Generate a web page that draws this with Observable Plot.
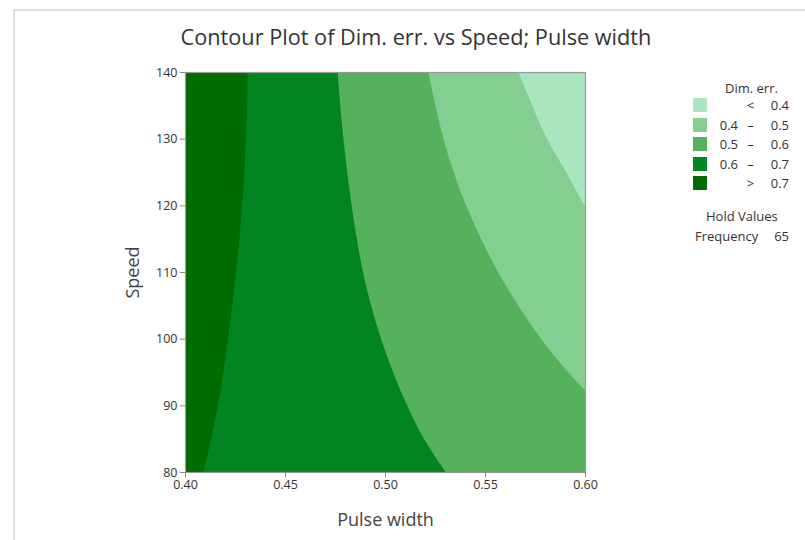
<!DOCTYPE html>
<html>
<head>
<meta charset="utf-8">
<script src="https://cdn.jsdelivr.net/npm/d3@7"></script>
<script src="https://cdn.jsdelivr.net/npm/@observablehq/plot@0.6"></script>
<style>
  html, body { margin: 0; padding: 0; background: #fff; overflow: hidden; }
  #wrap { position: relative; width: 805px; height: 540px; font-family: "Open Sans", sans-serif; color: #333; }
  #wrap svg { position: absolute; left: 0; top: 0; }
  #border { position: absolute; left: 13px; top: 9px; right: -2px; bottom: -2px; border-left: 2px solid #dedede; border-top: 2px solid #dedede; }
  #title { position: absolute; left: 0; width: 832px; top: 22px; text-align: center; font-size: 21.7px; color: #333; white-space: nowrap; }
  .lg { position: absolute; font-size: 13px; color: #333; white-space: nowrap; line-height: 16px; }
  .sw { position: absolute; width: 14px; height: 14px; }
</style>
</head>
<body>
<div id="wrap">
  <div id="border"></div>
  <div id="title">Contour Plot of Dim. err. vs Speed; Pulse width</div>
</div>
<script>
// ---- data ----
const xDomain = [0.40, 0.60];              // Pulse width
const yDomain = [80, 140];                 // Speed
const xTicks = [0.40, 0.45, 0.50, 0.55, 0.60];
const yTicks = [80, 90, 100, 110, 120, 130, 140];

// contour boundaries (Pulse width position of each level at given Speed)
const speedB07 = [80, 85, 90, 95, 100, 105, 110, 115, 120, 125, 130, 135, 140];
const pulseB07 = [0.4092, 0.4131, 0.4165, 0.4192, 0.4215, 0.4236, 0.4255, 0.4272, 0.4286, 0.4297, 0.4305, 0.4311, 0.4313];

const speedB06 = [80, 85, 90, 95, 100, 105, 110, 115, 120, 125, 130, 135, 140];
const pulseB06 = [0.5303, 0.5195, 0.5110, 0.5040, 0.4980, 0.4930, 0.4890, 0.4859, 0.4833, 0.4811, 0.4792, 0.4776, 0.4763];

const speedB05 = [92.3, 95, 100, 105, 110, 115, 120, 125, 130, 135, 140];
const pulseB05 = [0.600, 0.5915, 0.578, 0.5665, 0.5565, 0.548, 0.5405, 0.5343, 0.5292, 0.5252, 0.5217];

const speedB04 = [119.8, 125, 130, 135, 140];
const pulseB04 = [0.600, 0.5905, 0.5810, 0.5735, 0.5667];

// legend (top to bottom)
const bandColors = ["#a9e6c0", "#83ce90", "#55b15c", "#008520", "#006b00"];
const legendLo   = ["", "0.4", "0.5", "0.6", ""];
const legendSign = ["<", "–", "–", "–", ">"];
const legendHi   = ["0.4", "0.5", "0.6", "0.7", "0.7"];
const legendTitle = "Dim. err.";
const holdTitle = "Hold Values";
const holdName = "Frequency";
const holdValue = "65";

const toRows = (s, p) => s.map((v, i) => ({speed: v, pulse: p[i]}));
const band = (s, p, color) => Plot.areaX(toRows(s, p), {
  y: "speed", x1: "pulse", x2: xDomain[1], fill: color, curve: "natural", clip: true
});

const chart = Plot.plot({
  width: 805, height: 540,
  marginLeft: 185, marginRight: 220, marginTop: 72, marginBottom: 68,
  x: {domain: xDomain},
  y: {domain: yDomain},
  style: {fontFamily: "Open Sans, sans-serif", fontSize: "12px", color: "#333", background: "transparent"},
  marks: [
    Plot.frame({fill: bandColors[4], stroke: null}),
    band(speedB07, pulseB07, bandColors[3]),
    band(speedB06, pulseB06, bandColors[2]),
    band(speedB05, pulseB05, bandColors[1]),
    band(speedB04, pulseB04, bandColors[0]),
    Plot.frame({stroke: "#9a9a9a", strokeWidth: 1.2}),
    Plot.axisX({ticks: xTicks, tickFormat: d3.format(".2f"), tickSize: 5, tickPadding: 3, label: null, stroke: "#888", fontSize: 12.5}),
    Plot.axisY({ticks: yTicks, tickSize: 5, tickPadding: 3, label: null, stroke: "#888", fontSize: 12.5}),
    Plot.text(["Pulse width"], {frameAnchor: "bottom", dy: 48, fontSize: 18, fill: "#444", textAnchor: "middle", lineAnchor: "middle"}),
    Plot.text(["Speed"], {frameAnchor: "left", dx: -52, rotate: -90, fontSize: 18, fill: "#444", textAnchor: "middle", lineAnchor: "middle"})
  ]
});

const wrap = document.getElementById("wrap");
wrap.insertBefore(chart, wrap.firstChild);

// legend
function addText(txt, left, top, align) {
  const d = document.createElement("div");
  d.className = "lg";
  d.textContent = txt;
  if (align === "right") { d.style.right = (805 - left) + "px"; }
  else if (align === "center") { d.style.left = (left - 20) + "px"; d.style.width = "40px"; d.style.textAlign = "center"; }
  else { d.style.left = left + "px"; }
  d.style.top = top + "px";
  wrap.appendChild(d);
}
addText(legendTitle, 725, 80, "left");
bandColors.forEach((c, i) => {
  const top = 98 + i * 19.5;
  const sw = document.createElement("div");
  sw.className = "sw";
  sw.style.left = "693px"; sw.style.top = top + "px"; sw.style.background = c;
  wrap.appendChild(sw);
  const ty = top - 1;
  if (legendLo[i]) addText(legendLo[i], 738, ty, "right");
  addText(legendSign[i], 750.5, ty, "center");
  addText(legendHi[i], 789, ty, "right");
});
addText(holdTitle, 706, 208, "left");
addText(holdName, 695, 228, "left");
addText(holdValue, 789, 228, "right");
</script>
</body>
</html>
